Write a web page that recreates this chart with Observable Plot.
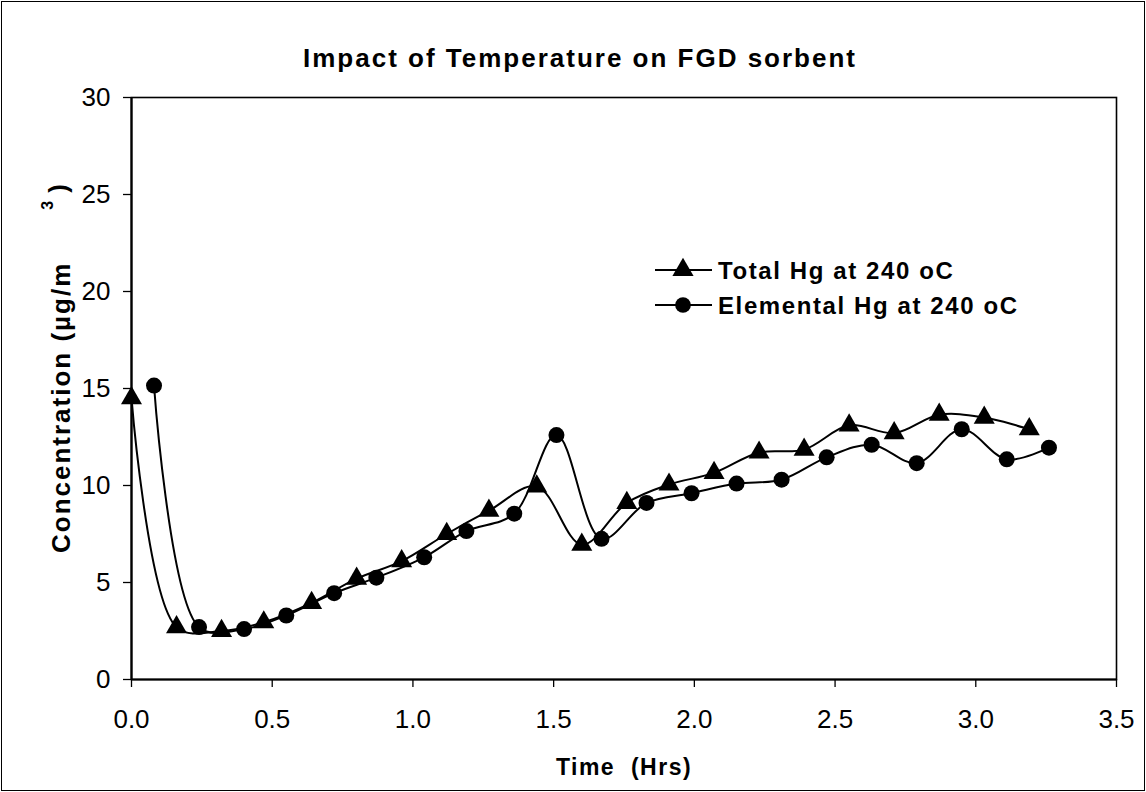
<!DOCTYPE html>
<html>
<head>
<meta charset="utf-8">
<script src="https://cdn.jsdelivr.net/npm/d3@7"></script>
<script src="https://cdn.jsdelivr.net/npm/@observablehq/plot@0.6"></script>
<style>
  html, body { margin: 0; padding: 0; background: #fff; }
  #wrap { position: relative; width: 1146px; height: 792px; font-family: "Liberation Sans", Arial, sans-serif; overflow: hidden; background: #fff; }
  #wrap::after { content: ""; position: absolute; left: 1px; top: 1px; right: 1px; bottom: 1px; border: 1.5px solid #000; pointer-events: none; }
  #title { height: 35px; padding-top: 45px; padding-left: 14px; line-height: 26px; text-align: center; font-weight: bold; font-size: 26px; letter-spacing: 2px; color: #000; white-space: nowrap; }
  #chart svg { display: block; }
  #legend { position: absolute; left: 0; top: 0; }
  [aria-label="x-axis label"] text { font-weight: bold; letter-spacing: 1.5px; }
</style>
</head>
<body>
<div id="wrap">
  <div id="title">Impact of Temperature on FGD sorbent</div>
  <div id="chart"></div>
  <svg id="legend" width="1146" height="792"></svg>
</div>
<script>
const totalTime = [0, 0.16, 0.32, 0.47, 0.64, 0.80, 0.96, 1.12, 1.27, 1.44, 1.60, 1.76, 1.91, 2.07, 2.23, 2.39, 2.55, 2.71, 2.87, 3.03, 3.19];
const totalHg   = [14.5, 2.7, 2.5, 2.95, 3.95, 5.2, 6.1, 7.5, 8.7, 9.95, 6.95, 9.1, 10.05, 10.65, 11.7, 11.85, 13.1, 12.7, 13.65, 13.5, 12.9];
const elemTime  = [0.08, 0.24, 0.40, 0.55, 0.72, 0.87, 1.04, 1.19, 1.36, 1.51, 1.67, 1.83, 1.99, 2.15, 2.31, 2.47, 2.63, 2.79, 2.95, 3.11, 3.26];
const elemHg    = [15.15, 2.7, 2.6, 3.3, 4.45, 5.25, 6.3, 7.65, 8.55, 12.6, 7.25, 9.1, 9.6, 10.1, 10.3, 11.45, 12.1, 11.15, 12.9, 11.35, 11.95];
const xTicks = [0, 0.5, 1.0, 1.5, 2.0, 2.5, 3.0, 3.5];
const yTicks = [0, 5, 10, 15, 20, 25, 30];
const seriesNames = ["Total Hg at 240 oC", "Elemental Hg at 240 oC"];
const xLabel = "Time  (Hrs)";
const yLabelMain = "Concentration (µg/m";
const yLabelSup = "3";

const total = totalTime.map((t, i) => ({t, c: totalHg[i]}));
const elem = elemTime.map((t, i) => ({t, c: elemHg[i]}));

const plot = Plot.plot({
  width: 1146,
  height: 712,
  marginLeft: 131,
  marginRight: 30,
  marginTop: 17,
  marginBottom: 113,
  style: {fontFamily: "'Liberation Sans', Arial, sans-serif", fontSize: "26px", color: "#000", background: "#fff"},
  x: {domain: [0, 3.5]},
  y: {domain: [0, 30]},
  marks: [
    Plot.frame({stroke: "#000", strokeWidth: 1.6}),
    Plot.axisX({ticks: xTicks, tickFormat: d3.format(".1f"), tickSize: 8, tickPadding: 22, strokeWidth: 1.3, fontSize: 26,
      label: null}),
    Plot.axisX({ticks: [], label: xLabel, labelAnchor: "center", labelOffset: 95, labelArrow: "none", fontSize: 23}),
    Plot.axisY({ticks: yTicks, tickFormat: d3.format("d"), tickSize: 8, tickPadding: 13, strokeWidth: 1.3, fontSize: 26, label: null}),
    Plot.ruleY([0], {stroke: "#000", strokeWidth: 2.2}),
    Plot.ruleX([0], {stroke: "#000", strokeWidth: 2.2}),
    Plot.line(total, {x: "t", y: "c", curve: "catmull-rom", stroke: "#000", strokeWidth: 2}),
    Plot.line(elem, {x: "t", y: "c", curve: "catmull-rom", stroke: "#000", strokeWidth: 2}),
    Plot.dot(total, {x: "t", y: "c", symbol: "triangle", r: 7.8, fill: "#000", stroke: "none"}),
    Plot.dot(elem, {x: "t", y: "c", symbol: "circle", r: 8, fill: "#000", stroke: "none"})
  ]
});
document.getElementById("chart").appendChild(plot);

const font = "'Liberation Sans', Arial, sans-serif";
const lg = d3.select("#legend");

// y-axis title with superscript
const yl = lg.append("text")
  .attr("transform", "translate(70,553) rotate(-90)")
  .attr("font-family", font).attr("font-weight", "bold").attr("font-size", 26)
  .attr("letter-spacing", 2).attr("fill", "#000");
yl.append("tspan").text(yLabelMain);
yl.append("tspan").attr("dx", 52).attr("dy", -17).attr("font-size", 16).text(yLabelSup);
yl.append("tspan").attr("dx", 6).attr("dy", 14).text(")");

// legend
const items = [
  {name: seriesNames[0], sym: d3.symbolTriangle, y: 270},
  {name: seriesNames[1], sym: d3.symbolCircle, y: 305}
];
for (const it of items) {
  lg.append("line").attr("x1", 655).attr("x2", 712).attr("y1", it.y).attr("y2", it.y).attr("stroke", "#000").attr("stroke-width", 2);
  lg.append("path").attr("d", d3.symbol(it.sym, Math.PI * 62)()).attr("transform", `translate(683,${it.y})`).attr("fill", "#000");
  lg.append("text").attr("x", 718).attr("y", it.y + 9).attr("font-family", font)
    .attr("font-weight", "bold").attr("font-size", 24).attr("letter-spacing", 1.6).attr("fill", "#000").text(it.name);
}
</script>
</body>
</html>
